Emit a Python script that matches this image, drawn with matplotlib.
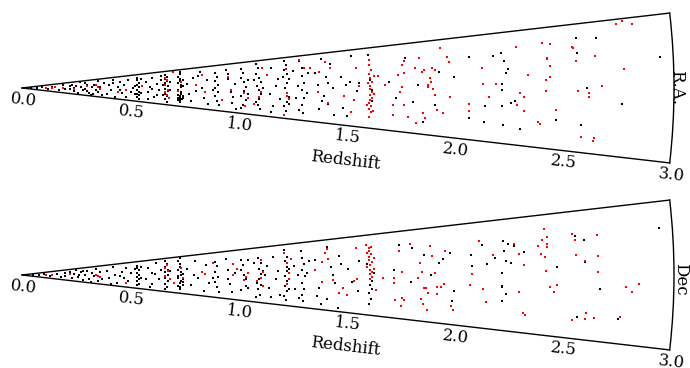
import matplotlib
matplotlib.use("Agg")
import matplotlib.pyplot as plt
import matplotlib.transforms as mtransforms
import numpy as np

plt.rcParams['font.family'] = 'DejaVu Serif'

# sector half-opening (deg) and redshift range
half_angle = 6.6
z_max = 3.0
r_ticks = [0.0, 0.5, 1.0, 1.5, 2.0, 2.5, 3.0]

# (redshift, angle in deg) -- R.A. slice
ra_black = [
    (0.04, 0.5), (0.07, -1.0), (0.09, 2.0), (0.12, -2.5), (0.14, 1.0), (0.17, -3.0), (0.19, 3.5), (0.20, -1.5),
    (0.22, 2.0), (0.22, -1.5), (0.23, 4.0), (0.24, 0.0), (0.24, -3.5), (0.25, 2.5), (0.26, -5.0), (0.27, 1.0),
    (0.28, -2.0), (0.29, 4.5), (0.29, -0.5), (0.30, 3.0), (0.31, -4.0), (0.32, 0.5), (0.32, -5.5), (0.33, 2.0),
    (0.34, -1.5), (0.35, 5.0), (0.35, -3.0), (0.36, 1.0), (0.37, -5.0), (0.38, 3.5), (0.30, -2.5), (0.27, 5.5),
    (0.33, -4.5),
    (0.39, -4.0), (0.40, 2.0), (0.41, -1.0), (0.42, 5.0), (0.43, -5.5), (0.44, 0.5), (0.45, 3.5), (0.46, -3.0),
    (0.47, 1.5), (0.48, -5.0), (0.49, 4.5), (0.50, -2.0), (0.51, 0.0), (0.45, -1.0), (0.42, 3.0),
    (0.53, 5.2), (0.53, 3.8), (0.54, 2.5), (0.53, 1.5), (0.54, 0.3), (0.53, -0.8), (0.54, -1.8), (0.53, -2.9),
    (0.54, -3.6), (0.53, -4.5), (0.54, -5.3), (0.55, 4.4), (0.55, -2.2), (0.52, 0.9), (0.52, -3.2),
    (0.57, 3.0), (0.58, -2.0), (0.59, 0.5), (0.60, 4.5), (0.61, -4.0), (0.62, 1.5), (0.63, -1.0), (0.64, 3.5),
    (0.58, -5.0), (0.60, -0.5), (0.62, -3.0), (0.64, 5.0),
    (0.66, 5.3), (0.67, 4.5), (0.66, 3.6), (0.67, 2.8), (0.66, 1.9), (0.67, 0.8), (0.66, -0.2), (0.67, -1.2),
    (0.66, -2.4), (0.67, -3.3), (0.66, -4.4), (0.67, -5.5), (0.68, 2.2), (0.68, -0.8), (0.65, -2.9), (0.65, 1.2),
    (0.73, 5.8), (0.73, 5.0), (0.72, 4.2), (0.73, 3.4), (0.73, 2.6), (0.72, 1.8), (0.73, 1.0), (0.73, 0.2),
    (0.72, -0.6), (0.73, -1.4), (0.73, -2.0), (0.72, -2.6), (0.73, -2.9), (0.73, -3.2), (0.72, -3.5), (0.73, -3.8),
    (0.74, -3.3), (0.73, -4.1), (0.72, -4.4), (0.73, -4.7), (0.74, -4.0), (0.73, -5.0), (0.74, -2.7), (0.74, -3.6),
    (0.74, 0.6), (0.74, 3.0),
    (0.76, 1.5), (0.78, -4.5), (0.79, 3.5), (0.80, -1.0), (0.82, 5.0), (0.83, 0.0), (0.84, -3.0), (0.85, 2.5),
    (0.86, -5.0), (0.77, -2.0), (0.81, 4.0),
    (0.89, 4.5), (0.90, 3.2), (0.89, 2.0), (0.90, 1.0), (0.89, 0.0), (0.90, -1.2), (0.89, -2.5), (0.90, -3.8),
    (0.91, -5.0), (0.88, -0.5),
    (0.94, 5.0), (0.95, 2.5), (0.96, -1.0), (0.97, -4.0), (0.98, 1.0), (0.99, -5.5), (0.95, 3.8), (0.97, -2.5),
    (1.01, 5.0), (1.02, 3.8), (1.01, 2.6), (1.02, 1.5), (1.03, 0.3), (1.02, -0.8), (1.01, -2.0), (1.03, -3.2),
    (1.02, -4.3), (1.01, -5.2), (1.04, 2.0), (1.04, -1.5),
    (1.08, 5.8), (1.09, 4.8), (1.08, 3.5), (1.09, 2.5), (1.10, 1.5), (1.08, 0.5), (1.09, -0.5), (1.10, -1.5),
    (1.09, -2.6), (1.08, -3.4), (1.09, -4.2), (1.10, -5.0), (1.11, 0.0), (1.07, 2.0),
    (1.13, 3.0), (1.14, -1.5), (1.15, 4.5), (1.16, -4.0), (1.17, 0.5), (1.18, 2.0), (1.19, -2.5), (1.15, -5.5),
    (1.21, 6.0), (1.22, 5.0), (1.21, 4.0), (1.22, 3.0), (1.23, 2.0), (1.22, 1.0), (1.21, 0.0), (1.22, -1.0),
    (1.23, -2.0), (1.22, -3.0), (1.21, -4.0), (1.22, -5.0), (1.20, 2.5), (1.23, -3.5),
    (1.25, 3.5), (1.26, -2.0), (1.27, 0.5), (1.28, 5.5), (1.29, 4.0), (1.29, 2.5), (1.30, 1.0), (1.29, -0.5),
    (1.30, -2.0), (1.29, -3.5), (1.30, -5.0), (1.31, -1.0), (1.28, -4.5), (1.32, 3.0),
    (1.36, 0.5), (1.37, -4.0), (1.38, 5.5), (1.39, -1.5), (1.40, 2.0), (1.41, -3.0), (1.42, 4.5), (1.43, 0.0),
    (1.44, -5.0), (1.35, 3.0), (1.38, -2.5), (1.41, 1.0),
    (1.47, 2.0), (1.48, -3.5), (1.50, -5.0), (1.51, 1.0), (1.52, 5.5), (1.49, 0.5), (1.55, 0.8), (1.54, -0.5),
    (1.60, 5.5), (1.61, -0.3), (1.60, 1.3), (1.61, -2.2),
    (1.69, 1.0), (1.72, -1.5), (1.77, 4.5),
    (1.82, 0.4), (1.85, -4.9), (1.90, -2.4), (1.92, 2.2), (1.99, 1.5), (1.80, -2.0),
    (2.06, 4.0), (2.06, -3.8), (2.13, -2.2), (2.13, -4.2), (2.17, 3.9), (2.21, 0.5), (2.21, 4.2), (2.22, 3.2),
    (2.23, 1.8), (2.24, 2.2), (2.21, -0.2), (2.21, -2.2), (2.22, -4.4), (2.27, -1.5), (2.25, -1.8), (2.30, -4.7),
    (2.46, -3.4), (2.56, 5.2), (2.56, 3.6), (2.60, 0.0), (2.58, -3.8), (2.65, 5.0), (2.76, -1.5), (2.94, 2.8),
]
ra_red = [
    (0.11, 1.0), (0.14, -0.5), (0.15, 2.5), (0.19, 0.5),
    (0.24, -0.8), (0.34, 2.5), (0.35, 0.5), (0.36, -0.5), (0.30, 1.5),
    (0.48, -1.2), (0.44, -2.5), (0.55, 1.0),
    (0.67, 3.1), (0.66, 1.0), (0.67, -0.6), (0.66, -1.7), (0.67, -2.7), (0.66, 4.1), (0.68, -4.0), (0.70, 5.9),
    (0.73, 2.2), (0.72, -1.0), (0.83, 4.2), (0.84, -1.3), (0.80, 1.0),
    (0.95, 3.0), (0.96, -0.5), (0.92, -3.5),
    (1.02, -1.3), (1.04, -2.5), (1.03, -4.5),
    (1.11, 4.8), (1.10, -1.0), (1.09, -2.2), (1.07, -4.0), (1.13, 3.0),
    (1.22, -1.1), (1.22, -1.7), (1.23, -2.3), (1.21, -5.8), (1.22, 4.2),
    (1.28, 5.8), (1.33, 3.9), (1.30, 4.0),
    (1.37, 3.1), (1.40, 4.9), (1.42, 3.7), (1.41, -2.8), (1.36, -0.8),
    (1.48, -1.4), (1.53, -2.0), (1.52, -4.2), (1.54, 3.4), (1.55, 0.3),
    (1.60, 4.6), (1.60, 3.8), (1.61, 3.0), (1.60, 2.3), (1.60, 1.6), (1.61, 1.0), (1.60, 0.4), (1.60, -0.2),
    (1.61, -0.7), (1.60, -1.2), (1.61, -1.6), (1.60, -2.0), (1.60, -2.5), (1.61, -3.0), (1.60, -3.5), (1.61, -4.0),
    (1.60, -4.8), (1.62, -1.0), (1.62, 2.0), (1.59, -2.8), (1.59, 0.8), (1.62, -3.8),
    (1.64, 1.9), (1.67, 0.4),
    (1.71, -2.6), (1.71, -4.2), (1.74, -0.6), (1.75, 3.5), (1.76, -2.6), (1.78, -4.3), (1.73, 2.0),
    (1.76, 4.1), (1.76, 2.3), (1.75, 0.1),
    (1.81, 2.9), (1.83, 4.3), (1.84, 2.3), (1.85, 2.6), (1.87, 0.4), (1.87, 0.1), (1.88, 1.4), (1.89, 2.8),
    (1.90, 2.5), (1.90, -1.0), (1.93, 5.5), (1.96, 4.2), (1.97, 3.5), (1.82, -5.1), (1.85, -3.6), (1.86, -4.3),
    (1.91, -3.0), (1.94, -3.4), (1.97, -1.2), (1.88, 0.9), (1.89, -0.2),
    (2.12, 2.5), (2.12, 0.5), (2.06, -2.1), (2.06, -2.9), (2.15, -1.1), (2.18, 0.5), (2.28, 4.7), (2.33, 1.5),
    (2.29, -0.6), (2.31, -1.0), (2.28, -2.0), (2.31, -2.6), (2.40, 4.9), (2.44, 4.8), (2.42, 3.3), (2.42, 3.2),
    (2.43, 2.4), (2.43, 1.2), (2.41, 0.9), (2.41, -0.3), (2.46, -2.4), (2.38, -3.8), (2.39, -4.0),
    (2.54, 4.3), (2.54, 4.2), (2.55, 2.8), (2.56, -0.3), (2.61, -0.5), (2.61, -0.9), (2.58, -5.0), (2.64, -5.0),
    (2.64, -5.3), (2.64, 3.2), (2.67, 0.2), (2.77, 1.8), (2.75, 6.1), (2.78, 6.4), (2.82, 6.0),
]

# (redshift, angle in deg) -- Dec slice
dec_black = [
    (0.05, 0.5), (0.08, -1.5), (0.10, 2.0), (0.13, -2.0), (0.16, 1.5), (0.18, -3.0), (0.20, 3.0),
    (0.20, -1.0), (0.22, 3.0), (0.23, -3.5), (0.24, 1.0), (0.25, 5.0), (0.26, -2.0), (0.27, 2.5), (0.28, -5.0),
    (0.29, 0.0), (0.30, 3.5), (0.31, -3.0), (0.32, 1.5), (0.33, -1.0), (0.34, 4.5), (0.35, -4.5), (0.36, 2.0),
    (0.37, -2.5), (0.28, 4.0), (0.32, -5.5), (0.26, 0.5),
    (0.39, 3.0), (0.40, -2.0), (0.42, 5.0), (0.43, 0.0), (0.44, -4.5), (0.46, 2.0), (0.47, -1.5), (0.48, 4.0),
    (0.49, -3.0), (0.50, 1.0), (0.41, -5.5), (0.45, -0.5),
    (0.53, 4.7), (0.53, 3.5), (0.54, 2.4), (0.53, 1.2), (0.54, 0.2), (0.53, -0.9), (0.54, -2.0), (0.53, -3.1),
    (0.54, -4.2), (0.53, -5.2), (0.55, -1.5), (0.52, 2.8), (0.55, 3.8),
    (0.57, -2.0), (0.58, 3.0), (0.60, -4.0), (0.61, 0.5), (0.62, 5.0), (0.63, -1.5), (0.64, 2.0), (0.59, -5.5),
    (0.60, 1.0),
    (0.66, 5.5), (0.67, 4.4), (0.66, 3.2), (0.67, 2.0), (0.66, 1.0), (0.67, 0.0), (0.66, -1.0), (0.67, -2.2),
    (0.66, -3.4), (0.67, -4.6), (0.66, -5.5), (0.68, 1.5),
    (0.73, 6.0), (0.72, 5.0), (0.73, 4.0), (0.73, 3.0), (0.72, 2.0), (0.73, 1.0), (0.73, 0.0), (0.72, -1.0),
    (0.73, -2.0), (0.73, -3.0), (0.72, -4.0), (0.73, -5.0), (0.74, -2.5), (0.74, -3.5), (0.74, -1.5), (0.73, -4.5),
    (0.74, 0.5), (0.72, -0.5),
    (0.76, 2.0), (0.78, -3.5), (0.80, 4.5), (0.81, -1.0), (0.83, 1.0), (0.84, -5.0), (0.85, 3.0), (0.86, -2.5),
    (0.79, 0.0),
    (0.89, 4.0), (0.90, 2.5), (0.89, 1.0), (0.90, -0.5), (0.89, -2.0), (0.90, -3.5), (0.91, -5.0), (0.88, -1.0),
    (0.94, 4.5), (0.95, 1.5), (0.96, -2.5), (0.97, -4.5), (0.98, 0.5), (0.95, -1.0),
    (1.01, 3.8), (1.02, 2.5), (1.01, 1.2), (1.02, -0.1), (1.02, -1.4), (1.03, -2.7), (1.01, -4.0), (1.04, 3.7),
    (1.04, 0.6), (1.04, -3.4), (1.03, -0.9),
    (1.09, 4.0), (1.10, 2.8), (1.09, 1.5), (1.10, 0.3), (1.09, -1.0), (1.10, -2.3), (1.09, -3.5), (1.10, -4.8),
    (1.08, -2.0), (1.11, 1.0), (1.07, 3.0), (1.08, -5.5),
    (1.13, 2.0), (1.14, -3.0), (1.16, 4.0), (1.17, -1.0), (1.18, 1.0), (1.19, -4.5), (1.15, -5.0), (1.12, 0.0),
    (1.21, 5.5), (1.22, 4.0), (1.21, 3.0), (1.22, 1.8), (1.22, 0.8), (1.21, -0.2), (1.22, -1.2), (1.21, -2.5),
    (1.22, -3.5), (1.21, -4.5), (1.22, -5.5), (1.23, -3.0), (1.23, 1.3),
    (1.25, 2.0), (1.26, -3.0), (1.27, 0.0), (1.29, 5.0), (1.29, 3.5), (1.30, 2.2), (1.29, 1.0), (1.30, -0.3),
    (1.29, -1.6), (1.30, -2.8), (1.29, -4.0), (1.30, -5.2), (1.31, 0.5), (1.28, -4.8), (1.32, 2.8),
    (1.41, 5.2), (1.42, 1.5), (1.43, 0.0), (1.44, -1.5), (1.37, -2.5), (1.38, -5.5), (1.41, -4.5), (1.46, 3.5),
    (1.47, 2.0), (1.46, -6.0), (1.35, 3.0), (1.36, -4.0),
    (1.55, 2.4), (1.55, -2.8), (1.52, -1.2), (1.50, 1.0),
    (1.61, -1.0), (1.60, -1.6), (1.61, -2.3), (1.60, -3.0), (1.61, -3.9), (1.60, -4.8), (1.59, 1.8), (1.62, 0.3),
    (1.74, 4.5), (1.79, -1.1), (1.71, 0.7), (1.80, 3.9), (1.85, 2.8), (1.88, 0.0),
    (1.92, 1.6), (1.94, 2.2), (1.97, 3.0), (1.99, -2.1), (1.98, -3.4),
    (2.12, 3.7), (2.07, 2.5), (2.07, 1.1), (2.14, 1.4), (2.18, 2.1), (2.22, 2.8), (2.22, 4.1), (2.24, 3.7),
    (2.27, 3.4), (2.23, 1.6), (2.25, 1.4), (2.21, 0.2), (2.21, -1.3), (2.21, -1.4), (2.23, -2.3), (2.21, -3.1),
    (2.31, 2.6), (2.46, 0.9), (2.55, 4.0), (2.59, 3.6), (2.59, 1.3), (2.66, -1.4), (2.56, -4.3), (2.75, -4.2),
    (2.94, 4.2),
]
dec_red = [
    (0.11, 0.3), (0.14, 0.8), (0.22, 0.6),
    (0.34, -0.3), (0.35, -1.0), (0.36, -1.5), (0.48, -4.2),
    (0.67, 3.8), (0.66, 2.6), (0.67, 1.5), (0.66, -0.5), (0.68, -1.5),
    (0.73, 2.5), (0.74, -1.0), (0.70, -3.2), (0.83, 0.8), (0.84, 0.3), (0.88, 3.7),
    (0.97, 3.1), (0.97, -0.1), (0.99, 1.5),
    (1.02, -1.4), (1.04, 0.6), (1.03, -0.6),
    (1.10, 3.5), (1.11, 0.6), (1.10, -0.6), (1.08, -1.5), (1.11, -2.5),
    (1.21, 4.7), (1.22, 2.5), (1.23, -0.8), (1.22, -1.9), (1.23, 0.5), (1.24, 3.5),
    (1.35, 0.9), (1.38, 2.4), (1.40, 4.1), (1.41, 4.8), (1.41, 2.9), (1.38, -1.4), (1.43, -1.0),
    (1.46, -3.2), (1.48, -2.4), (1.50, -3.6), (1.53, -1.0), (1.54, -0.6), (1.54, 4.7),
    (1.59, 4.9), (1.60, 4.4), (1.60, 3.9), (1.61, 3.4), (1.60, 3.0), (1.60, 2.5), (1.61, 2.1), (1.60, 1.7),
    (1.59, 1.3), (1.60, 0.9), (1.61, 0.5), (1.60, 0.1), (1.61, -0.3), (1.60, -0.6), (1.62, 2.8), (1.59, 3.6),
    (1.62, 1.0), (1.61, 4.6),
    (1.63, -2.5), (1.66, -0.4),
    (1.71, -0.5), (1.71, -1.2), (1.72, -3.9), (1.74, 3.7), (1.75, -3.4), (1.76, -3.7), (1.75, -4.6), (1.75, 0.4),
    (1.79, 4.6), (1.83, 1.7), (1.84, 0.4), (1.85, -1.8), (1.85, -4.1), (1.87, -5.0), (1.84, -3.4), (1.86, -1.8),
    (1.82, -0.5),
    (1.88, 4.1), (1.89, 2.7), (1.90, 0.3), (1.91, -1.7), (1.91, -2.6), (1.93, -1.7), (1.94, -1.2), (1.95, 3.3),
    (1.98, -4.1), (1.99, -4.7), (1.87, -2.6),
    (2.11, 4.3), (2.07, 0.1), (2.06, -1.3), (2.12, -1.8), (2.14, -3.3), (2.17, 2.4), (2.27, 3.6), (2.29, 2.4),
    (2.31, 1.1), (2.29, -2.0), (2.31, -4.3), (2.32, -4.6),
    (2.41, 5.0), (2.42, 4.1), (2.40, 3.8), (2.42, 3.4), (2.38, 3.2), (2.42, 3.0), (2.39, 2.3), (2.41, 2.0),
    (2.41, 0.4), (2.43, -1.3), (2.46, -1.1), (2.45, -1.8),
    (2.54, 4.3), (2.55, 3.6), (2.55, 2.1), (2.59, 1.4), (2.65, 4.0), (2.65, 1.9), (2.65, 0.3), (2.54, -4.7),
    (2.60, -3.9), (2.60, -4.5), (2.64, -4.3), (2.76, -4.0), (2.78, -1.1), (2.81, -1.6), (2.84, -0.8),
]

W, H = 690, 368


def cone(y_center, black, red):
    # polar axes keep a square box; the sector is fitted to its width
    side = 652
    rect = [22 / W, (H - y_center - side / 2) / H, side / W, side / H]
    ax = fig.add_axes(rect, projection='polar')
    ax.set_thetamin(-half_angle)
    ax.set_thetamax(half_angle)
    ax.set_rlim(0, z_max)

    for pts, col in ((black, 'black'), (red, 'red')):
        z = np.array([p[0] for p in pts])
        ang = np.radians([p[1] for p in pts])
        ax.scatter(ang, z, s=2, c=col, marker='s', linewidths=0)

    ax.grid(False)
    ax.set_xticks([])
    ax.set_yticks(r_ticks)
    ax.set_yticklabels([])
    ax.tick_params(axis='y', length=0)

    # redshift labels just outside the lower edge, parallel to it
    shift = mtransforms.ScaledTranslation(0.02, -0.12, fig.dpi_scale_trans)
    for t in r_ticks:
        ax.text(np.radians(-half_angle), t, '%.1f' % t, transform=ax.transData + shift,
                rotation=-half_angle, rotation_mode='anchor',
                ha='center', va='center', fontsize=12)
    for sp in ax.spines.values():
        sp.set_linewidth(1.0)
    return ax


fig = plt.figure(figsize=(W / 100, H / 100), dpi=100)
ax1 = cone(88, ra_black, ra_red)
ax2 = cone(275, dec_black, dec_red)

fig.text(345 / W, 1 - 161 / H, 'Redshift', rotation=-half_angle, ha='center', va='center', fontsize=12)
fig.text(345 / W, 1 - 347 / H, 'Redshift', rotation=-half_angle, ha='center', va='center', fontsize=12)
fig.text(677 / W, 1 - 88 / H, 'R.A.', rotation=-90, ha='center', va='center', fontsize=12)
fig.text(681 / W, 1 - 279 / H, 'Dec', rotation=-90, ha='center', va='center', fontsize=12)

fig.savefig('out.png', dpi=100)
